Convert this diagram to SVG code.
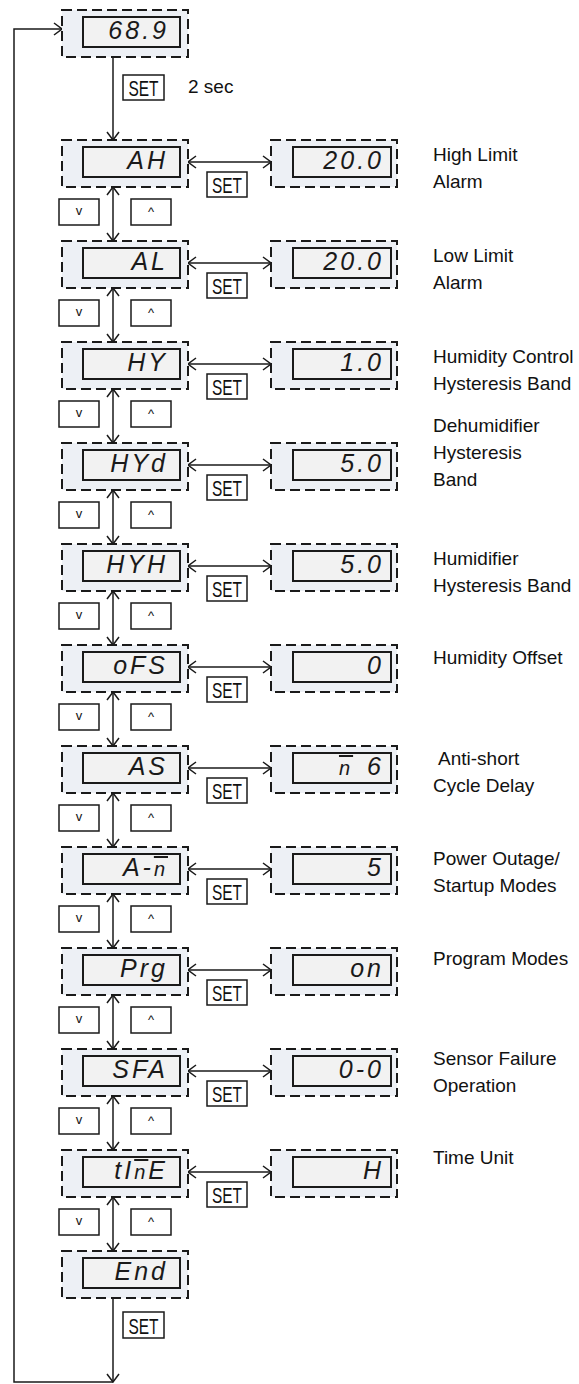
<svg xmlns="http://www.w3.org/2000/svg" width="579" height="1384" viewBox="0 0 579 1384">
<style>
.frame{fill:#edf0f5;stroke:#1a1a1a;stroke-width:2;stroke-dasharray:10 5}
.disp{fill:#f2f2f2;stroke:#1a1a1a;stroke-width:2}
.seg{font-family:"Liberation Sans",Arial,sans-serif;font-style:italic;font-size:25px;fill:#1a1a1a;text-anchor:end;letter-spacing:3px}
.ov{text-decoration:overline;font-size:20px}
.lbl{font-family:"Liberation Sans",Arial,sans-serif;font-size:19px;fill:#111}
.key{fill:#fff;stroke:#1a1a1a;stroke-width:1.5}
.keyt{font-family:"Liberation Sans",Arial,sans-serif;font-size:22px;fill:#111;text-anchor:middle}
.arr{font-family:"Liberation Sans",Arial,sans-serif;font-size:13px;fill:#111;text-anchor:middle}
.ln{fill:none;stroke:#1a1a1a;stroke-width:1.5}
</style>
<defs>
<marker id="ch" viewBox="0 0 10 14" refX="9.5" refY="7" markerWidth="10" markerHeight="14" markerUnits="userSpaceOnUse" orient="auto-start-reverse">
<path d="M1.5,1 L9.5,7 L1.5,13" fill="none" stroke="#1a1a1a" stroke-width="1.5"/>
</marker>
<g id="lbox"><rect class="frame" x="62" y="0" width="126" height="47"/><rect class="disp" x="83" y="7" width="97" height="30"/></g>
<g id="rbox"><rect class="frame" x="271" y="0" width="126" height="47"/><rect class="disp" x="293" y="7" width="98" height="30"/></g>
<g id="updn"><rect class="key" x="59" y="59" width="40" height="26"/><text class="arr" x="79" y="75">v</text><rect class="key" x="131" y="59" width="40" height="26"/><text class="arr" x="151" y="76">^</text></g>
<g id="setk"><rect class="key" x="207" y="32" width="40" height="25"/><text class="keyt" x="227" y="53" textLength="30" lengthAdjust="spacingAndGlyphs">SET</text></g>
</defs>

<g id="connectors">
<path class="ln" d="M113,1298 V1382" marker-end="url(#ch)"/>
<path class="ln" d="M113,1382 H14 V29 H62" marker-end="url(#ch)"/>
<path class="ln" d="M113,57 V140" marker-end="url(#ch)"/>
<path class="ln" d="M113,187 V241" marker-start="url(#ch)" marker-end="url(#ch)"/>
<path class="ln" d="M113,288 V342" marker-start="url(#ch)" marker-end="url(#ch)"/>
<path class="ln" d="M113,389 V443" marker-start="url(#ch)" marker-end="url(#ch)"/>
<path class="ln" d="M113,490 V544" marker-start="url(#ch)" marker-end="url(#ch)"/>
<path class="ln" d="M113,591 V645" marker-start="url(#ch)" marker-end="url(#ch)"/>
<path class="ln" d="M113,692 V746" marker-start="url(#ch)" marker-end="url(#ch)"/>
<path class="ln" d="M113,793 V847" marker-start="url(#ch)" marker-end="url(#ch)"/>
<path class="ln" d="M113,894 V948" marker-start="url(#ch)" marker-end="url(#ch)"/>
<path class="ln" d="M113,995 V1049" marker-start="url(#ch)" marker-end="url(#ch)"/>
<path class="ln" d="M113,1096 V1150" marker-start="url(#ch)" marker-end="url(#ch)"/>
<path class="ln" d="M113,1197 V1251" marker-start="url(#ch)" marker-end="url(#ch)"/>
<path class="ln" d="M188,162 H271" marker-start="url(#ch)" marker-end="url(#ch)"/>
<path class="ln" d="M188,263 H271" marker-start="url(#ch)" marker-end="url(#ch)"/>
<path class="ln" d="M188,364 H271" marker-start="url(#ch)" marker-end="url(#ch)"/>
<path class="ln" d="M188,465 H271" marker-start="url(#ch)" marker-end="url(#ch)"/>
<path class="ln" d="M188,566 H271" marker-start="url(#ch)" marker-end="url(#ch)"/>
<path class="ln" d="M188,667 H271" marker-start="url(#ch)" marker-end="url(#ch)"/>
<path class="ln" d="M188,768 H271" marker-start="url(#ch)" marker-end="url(#ch)"/>
<path class="ln" d="M188,869 H271" marker-start="url(#ch)" marker-end="url(#ch)"/>
<path class="ln" d="M188,970 H271" marker-start="url(#ch)" marker-end="url(#ch)"/>
<path class="ln" d="M188,1071 H271" marker-start="url(#ch)" marker-end="url(#ch)"/>
<path class="ln" d="M188,1172 H271" marker-start="url(#ch)" marker-end="url(#ch)"/>
<g id="set-keys">
<rect class="key" x="123" y="75" width="41" height="25"/><text class="keyt" x="143.5" y="96" textLength="30" lengthAdjust="spacingAndGlyphs">SET</text>
<text class="lbl" x="188" y="93">2 sec</text>
<rect class="key" x="123" y="1312" width="41" height="26"/><text class="keyt" x="143.5" y="1334" textLength="30" lengthAdjust="spacingAndGlyphs">SET</text>
<use href="#setk" y="140"/><use href="#setk" y="241"/><use href="#setk" y="342"/><use href="#setk" y="443"/><use href="#setk" y="544"/><use href="#setk" y="645"/><use href="#setk" y="746"/><use href="#setk" y="847"/><use href="#setk" y="948"/><use href="#setk" y="1049"/><use href="#setk" y="1150"/>
</g>
<g id="updown-keys">
<use href="#updn" y="140"/><use href="#updn" y="241"/><use href="#updn" y="342"/><use href="#updn" y="443"/><use href="#updn" y="544"/><use href="#updn" y="645"/><use href="#updn" y="746"/><use href="#updn" y="847"/><use href="#updn" y="948"/><use href="#updn" y="1049"/><use href="#updn" y="1150"/>
</g>
</g>

<g id="node-home" transform="translate(0,10)"><use href="#lbox"/><text class="seg" x="169" y="29" letter-spacing="1">68.9</text></g>

<g id="node-AH" transform="translate(0,140)"><use href="#lbox"/><text class="seg" x="168" y="29" letter-spacing="6">AH</text></g>
<g id="val-AH" transform="translate(0,140)"><use href="#rbox"/><text class="seg" x="384" y="29" letter-spacing="1">20.0</text></g>
<g id="lbl-AH" class="lbl"><text x="433" y="161">High Limit</text><text x="433" y="188">Alarm</text></g>

<g id="node-AL" transform="translate(0,241)"><use href="#lbox"/><text class="seg" x="168" y="29" letter-spacing="6">AL</text></g>
<g id="val-AL" transform="translate(0,241)"><use href="#rbox"/><text class="seg" x="384" y="29" letter-spacing="1">20.0</text></g>
<g id="lbl-AL" class="lbl"><text x="433" y="262">Low Limit</text><text x="433" y="289">Alarm</text></g>

<g id="node-HY" transform="translate(0,342)"><use href="#lbox"/><text class="seg" x="168" y="29" letter-spacing="4">HY</text></g>
<g id="val-HY" transform="translate(0,342)"><use href="#rbox"/><text class="seg" x="384" y="29" letter-spacing="1">1.0</text></g>
<g id="lbl-HY" class="lbl"><text x="433" y="363">Humidity Control</text><text x="433" y="390">Hysteresis Band</text></g>

<g id="node-HYd" transform="translate(0,443)"><use href="#lbox"/><text class="seg" x="168" y="29" letter-spacing="4">HYd</text></g>
<g id="val-HYd" transform="translate(0,443)"><use href="#rbox"/><text class="seg" x="384" y="29" letter-spacing="1">5.0</text></g>
<g id="lbl-HYd" class="lbl"><text x="433" y="432">Dehumidifier</text><text x="433" y="459">Hysteresis</text><text x="433" y="486">Band</text></g>

<g id="node-HYH" transform="translate(0,544)"><use href="#lbox"/><text class="seg" x="168" y="29" letter-spacing="4">HYH</text></g>
<g id="val-HYH" transform="translate(0,544)"><use href="#rbox"/><text class="seg" x="384" y="29" letter-spacing="1">5.0</text></g>
<g id="lbl-HYH" class="lbl"><text x="433" y="565">Humidifier</text><text x="433" y="592">Hysteresis Band</text></g>

<g id="node-oFS" transform="translate(0,645)"><use href="#lbox"/><text class="seg" x="168" y="29" letter-spacing="5">oFS</text></g>
<g id="val-oFS" transform="translate(0,645)"><use href="#rbox"/><text class="seg" x="384" y="29" letter-spacing="1">0</text></g>
<g id="lbl-oFS" class="lbl"><text x="433" y="664">Humidity Offset</text></g>

<g id="node-AS" transform="translate(0,746)"><use href="#lbox"/><text class="seg" x="168" y="29" letter-spacing="6">AS</text></g>
<g id="val-AS" transform="translate(0,746)"><use href="#rbox"/><text class="seg" x="384" y="29" letter-spacing="5"><tspan class="ov">n</tspan><tspan dx="14">6</tspan></text></g>
<g id="lbl-AS" class="lbl"><text x="438" y="765">Anti-short</text><text x="433" y="792">Cycle Delay</text></g>

<g id="node-Am" transform="translate(0,847)"><use href="#lbox"/><text class="seg" x="168" y="29" letter-spacing="5">A-<tspan class="ov">n</tspan></text></g>
<g id="val-Am" transform="translate(0,847)"><use href="#rbox"/><text class="seg" x="384" y="29" letter-spacing="1">5</text></g>
<g id="lbl-Am" class="lbl"><text x="433" y="865">Power Outage/</text><text x="433" y="892">Startup Modes</text></g>

<g id="node-Prg" transform="translate(0,948)"><use href="#lbox"/><text class="seg" x="168" y="29" letter-spacing="5">Prg</text></g>
<g id="val-Prg" transform="translate(0,948)"><use href="#rbox"/><text class="seg" x="384" y="29" letter-spacing="5">on</text></g>
<g id="lbl-Prg" class="lbl"><text x="433" y="965">Program Modes</text></g>

<g id="node-SFA" transform="translate(0,1049)"><use href="#lbox"/><text class="seg" x="168" y="29" letter-spacing="3">SFA</text></g>
<g id="val-SFA" transform="translate(0,1049)"><use href="#rbox"/><text class="seg" x="384" y="29" letter-spacing="1">0-0</text></g>
<g id="lbl-SFA" class="lbl"><text x="433" y="1065">Sensor Failure</text><text x="433" y="1092">Operation</text></g>

<g id="node-tImE" transform="translate(0,1150)"><use href="#lbox"/><text class="seg" x="168" y="29" letter-spacing="4">tI<tspan class="ov">n</tspan>E</text></g>
<g id="val-tImE" transform="translate(0,1150)"><use href="#rbox"/><text class="seg" x="384" y="29" letter-spacing="1">H</text></g>
<g id="lbl-tImE" class="lbl"><text x="433" y="1164">Time Unit</text></g>

<g id="node-End" transform="translate(0,1251)"><use href="#lbox"/><text class="seg" x="168" y="29" letter-spacing="5">End</text></g>
</svg>
